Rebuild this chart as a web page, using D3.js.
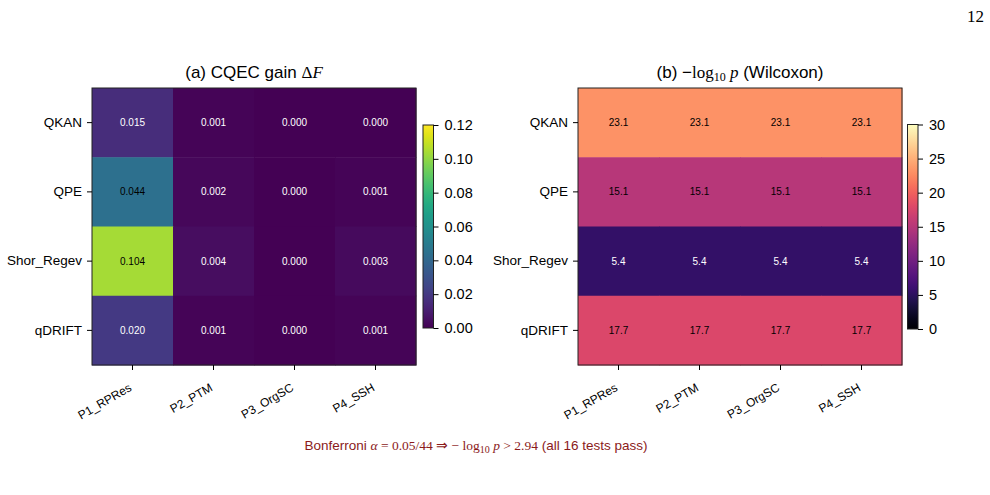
<!DOCTYPE html>
<html>
<head>
<meta charset="utf-8">
<script src="https://cdn.jsdelivr.net/npm/d3@7"></script>
<style>
  body { margin: 0; background: #fff; }
  svg { display: block; font-family: "Liberation Sans", Arial, sans-serif; }
</style>
</head>
<body>
<svg id="chart" width="990" height="495"></svg>
<script>
'use strict';

// rows / columns of both heatmaps
const methods = ['QKAN', 'QPE', 'Shor_Regev', 'qDRIFT'];
const protocols = ['P1_RPRes', 'P2_PTM', 'P3_OrgSC', 'P4_SSH'];

// (a) CQEC gain, one array per method
const gainQKAN = [0.015, 0.001, 0.000, 0.000];
const gainQPE = [0.044, 0.002, 0.000, 0.001];
const gainShor = [0.104, 0.004, 0.000, 0.003];
const gainQDRIFT = [0.020, 0.001, 0.000, 0.001];

// (b) -log10 p (Wilcoxon)
const pQKAN = [23.1, 23.1, 23.1, 23.1];
const pQPE = [15.1, 15.1, 15.1, 15.1];
const pShor = [5.4, 5.4, 5.4, 5.4];
const pQDRIFT = [17.7, 17.7, 17.7, 17.7];

// colorbar ticks
const gainTicks = [0, 0.02, 0.04, 0.06, 0.08, 0.10, 0.12];
const pTicks = [0, 5, 10, 15, 20, 25, 30];

const gainRows = [gainQKAN, gainQPE, gainShor, gainQDRIFT];
const pRows = [pQKAN, pQPE, pShor, pQDRIFT];

const svg = d3.select('#chart');
const sans = '"Liberation Sans", Arial, sans-serif';
const lib = '"Liberation Serif", serif';

function toCells(rows) {
  const cells = [];
  rows.forEach((r, i) => r.forEach((v, j) => cells.push({ row: methods[i], col: protocols[j], v: v })));
  return cells;
}

/**
 * Draws one heatmap panel with its colorbar.
 */
function heatmap(opt) {
  const x = d3.scaleBand().domain(protocols).range([opt.left, opt.right]);
  const y = d3.scaleBand().domain(methods).range([opt.top, opt.bottom]);
  const color = d3.scaleSequential(opt.interp).domain(opt.domain);

  const g = svg.append('g');

  g.selectAll('rect.cell')
    .data(toCells(opt.rows))
    .enter().append('rect')
      .attr('class', 'cell')
      .attr('x', d => x(d.col))
      .attr('y', d => y(d.row))
      .attr('width', x.bandwidth() + 0.5)
      .attr('height', y.bandwidth() + 0.5)
      .attr('fill', d => color(d.v));

  g.selectAll('text.val')
    .data(toCells(opt.rows))
    .enter().append('text')
      .attr('class', 'val')
      .attr('x', d => x(d.col) + x.bandwidth() / 2)
      .attr('y', d => y(d.row) + y.bandwidth() / 2)
      .attr('dy', '0.35em')
      .attr('text-anchor', 'middle')
      .attr('font-size', 10)
      .attr('fill', d => opt.dark(d.v) ? '#fff' : '#000')
      .text(d => opt.fmt(d.v));

  // frame
  g.append('rect')
    .attr('x', opt.left).attr('y', opt.top)
    .attr('width', opt.right - opt.left).attr('height', opt.bottom - opt.top)
    .attr('fill', 'none').attr('stroke', '#222').attr('stroke-width', 1);

  // axes
  const xAxis = g.append('g')
    .attr('transform', `translate(0, ${opt.bottom})`)
    .call(d3.axisBottom(x).tickSize(5));
  xAxis.select('.domain').remove();
  xAxis.selectAll('text')
    .attr('font-size', 12)
    .attr('fill', '#000')
    .attr('text-anchor', 'end')
    .attr('x', 0).attr('y', 0).attr('dy', 0)
    .attr('transform', 'translate(0, 25) rotate(-30)')
    .style('font-family', sans);
  xAxis.selectAll('line').attr('stroke', '#000');

  const yAxis = g.append('g')
    .attr('transform', `translate(${opt.left}, 0)`)
    .call(d3.axisLeft(y).tickSize(5).tickPadding(5));
  yAxis.select('.domain').remove();
  yAxis.selectAll('text').attr('font-size', 13.5).attr('fill', '#000')
    .style('font-family', sans);
  yAxis.selectAll('line').attr('stroke', '#000');

  // colorbar
  const cb = opt.cbar;
  const cy = d3.scaleLinear().domain(opt.domain).range([cb.bottom, cb.top]);
  const gradId = 'grad-' + opt.id;
  const grad = svg.append('defs').append('linearGradient')
    .attr('id', gradId)
    .attr('x1', 0).attr('y1', 1).attr('x2', 0).attr('y2', 0);
  grad.selectAll('stop')
    .data(d3.range(0, 1.0001, 0.05))
    .enter().append('stop')
      .attr('offset', t => t)
      .attr('stop-color', t => opt.interp(t));

  g.append('rect')
    .attr('x', cb.left).attr('y', cb.top)
    .attr('width', cb.width).attr('height', cb.bottom - cb.top)
    .attr('fill', `url(#${gradId})`)
    .attr('stroke', '#222').attr('stroke-width', 1);

  const cAxis = g.append('g')
    .attr('transform', `translate(${cb.left + cb.width}, 0)`)
    .call(d3.axisRight(cy).tickValues(opt.ticks).tickFormat(opt.tickFmt).tickSize(5).tickPadding(6));
  cAxis.select('.domain').remove();
  cAxis.selectAll('text').attr('font-size', 14.5).attr('fill', '#000')
    .style('font-family', sans);
  cAxis.selectAll('line').attr('stroke', '#000');

  return g;
}

heatmap({
  id: 'a', rows: gainRows, interp: d3.interpolateViridis, domain: [0, 0.12],
  left: 92, right: 416, top: 88, bottom: 365,
  fmt: d3.format('.3f'), dark: v => v < 0.03,
  cbar: { left: 423, width: 10.5, top: 125, bottom: 328 },
  ticks: gainTicks, tickFmt: d3.format('.2f')
});

heatmap({
  id: 'b', rows: pRows, interp: d3.interpolateMagma, domain: [0, 30],
  left: 578, right: 902, top: 88, bottom: 365,
  fmt: d3.format('.1f'), dark: v => v < 10,
  cbar: { left: 907.5, width: 10.5, top: 124.5, bottom: 329 },
  ticks: pTicks, tickFmt: d3.format('d')
});

// titles
const t1 = svg.append('text')
  .attr('x', 254).attr('y', 78).attr('text-anchor', 'middle').attr('font-size', 17);
t1.append('tspan').text('(a) CQEC gain ');
t1.append('tspan').style('font-family', lib).text('Δ');
t1.append('tspan').style('font-family', lib).style('font-style', 'italic').text('F');

const t2 = svg.append('text')
  .attr('x', 740).attr('y', 78).attr('text-anchor', 'middle').attr('font-size', 17);
t2.append('tspan').text('(b) −');
t2.append('tspan').style('font-family', lib).text('log');
t2.append('tspan').style('font-family', lib).attr('font-size', 12).attr('dy', 3).text('10');
t2.append('tspan').style('font-family', lib).style('font-style', 'italic').attr('dy', -3).text(' p');
t2.append('tspan').text(' (Wilcoxon)');

// Bonferroni note
const note = svg.append('text')
  .attr('x', 476).attr('y', 450).attr('text-anchor', 'middle')
  .attr('font-size', 13.5).attr('fill', '#8b1a1a');
note.append('tspan').text('Bonferroni ');
note.append('tspan').style('font-family', lib).style('font-style', 'italic').text('α');
note.append('tspan').style('font-family', lib).text(' = 0.05/44 ⇒ − log');
note.append('tspan').style('font-family', lib).attr('font-size', 10).attr('dy', 2.5).text('10');
note.append('tspan').style('font-family', lib).style('font-style', 'italic').attr('dy', -2.5).text(' p');
note.append('tspan').style('font-family', lib).text(' > 2.94');
note.append('tspan').text('  (all 16 tests pass)');

// page number
svg.append('text')
  .attr('x', 984).attr('y', 22).attr('text-anchor', 'end')
  .attr('font-size', 17).style('font-family', lib).text('12');
</script>
</body>
</html>
